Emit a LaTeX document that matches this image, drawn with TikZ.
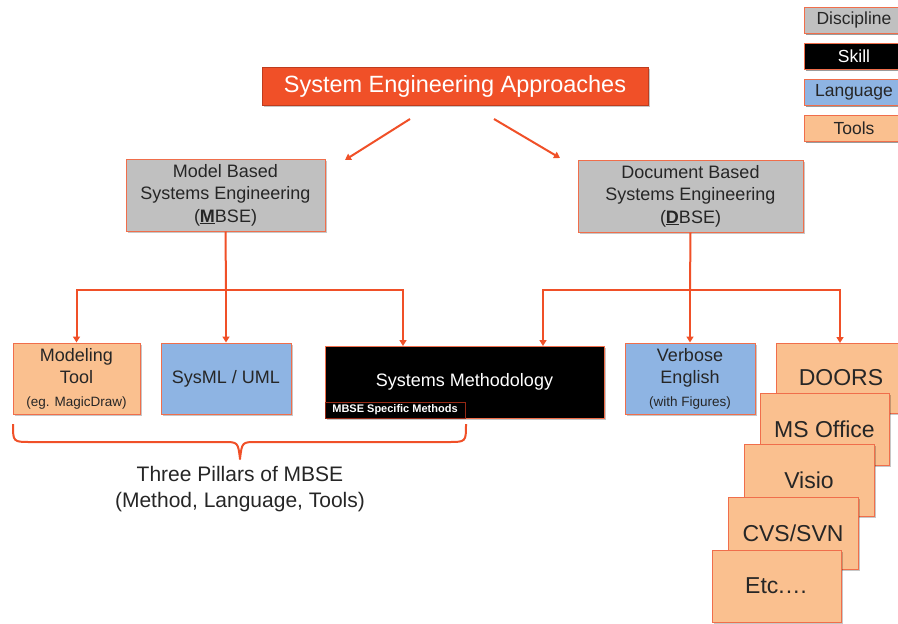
\documentclass[tikz,border=0pt]{standalone}
\usepackage{fontspec}
\setmainfont{Liberation Sans}
\usetikzlibrary{arrows.meta,shadows}

\definecolor{seorange}{RGB}{240,80,40}
\definecolor{seborder}{RGB}{240,110,75}
\definecolor{titleedge}{RGB}{190,60,30}
\definecolor{discgray}{RGB}{192,192,192}
\definecolor{toolpeach}{RGB}{250,192,143}
\definecolor{langblue}{RGB}{142,180,227}
\definecolor{methedge}{RGB}{150,40,20}

\tikzset{
  box/.style={draw=seborder, line width=1pt, inner sep=0pt, align=center,
    text=black!85, drop shadow={shadow xshift=1.5pt, shadow yshift=-1.5pt,
    opacity=0.22, fill=black}},
  discbox/.style={box, fill=discgray},
  toolbox/.style={box, fill=toolpeach},
  langbox/.style={box, fill=langblue},
  skillbox/.style={box, fill=black, text=white},
  legend/.style={box, minimum width=100pt, minimum height=26pt,
    font=\fontsize{17.5}{20}\selectfont},
  body/.style={font=\fontsize{18}{22.5}\selectfont},
  stackbox/.style={toolbox, minimum height=72pt, font=\fontsize{23}{26}\selectfont},
  link/.style={draw=seorange, line width=2pt},
  tip/.style={link, -{Triangle[width=7pt,length=6pt]}},
}
\newcommand{\smalltext}[1]{{\fontsize{13.5}{16}\selectfont #1}}

\begin{document}
\begin{tikzpicture}[x=1pt, y=-1pt]
\useasboundingbox (0,0) rectangle (898,624);

% legend
\node[legend, discbox] (lgdisc) at (854,20) {Discipline};
\node[legend, skillbox] (lgskill) at (854,56) {Skill};
\node[legend, langbox] (lglang) at (854,92) {Language};
\node[legend, toolbox] (lgtool) at (854,128) {Tools};

% title
\node[box, fill=seorange, draw=titleedge, text=white, minimum width=386pt,
  minimum height=38pt, font=\fontsize{23.5}{26}\selectfont] (title) at (455,86)
  {System Engineering Approaches};

% the two approaches
\node[discbox, body, minimum width=199pt, minimum height=72pt] (mbse) at (225.5,195)
  {Model Based\\Systems Engineering\\(\underline{\textbf{M}}BSE)};
\node[discbox, body, minimum width=225pt, minimum height=72pt] (dbse) at (690.5,196)
  {Document Based\\Systems Engineering\\(\underline{\textbf{D}}BSE)};

\coordinate (tl) at (410,119);
\coordinate (tlend) at (345,160);
\coordinate (tr) at (494,119);
\coordinate (trend) at (560,158);
\draw[tip] (tl) -- (tlend);
\draw[tip] (tr) -- (trend);

% MBSE pillars
\node[toolbox, body, minimum width=127pt, minimum height=71pt] (mtool) at (76.5,378.5)
  {Modeling\\Tool\\\smalltext{(eg. MagicDraw)}};
\node[langbox, body, minimum width=130pt, minimum height=71pt] (sysml) at (226,378.5)
  {SysML / UML};
\node[skillbox, body, minimum width=279pt, minimum height=72pt] (smeth) at (464.5,382)
  {Systems Methodology};
\node[anchor=south west, draw=methedge, line width=1pt, fill=black, text=white,
  inner sep=0pt, minimum width=140pt, minimum height=16pt,
  font=\fontsize{11}{13}\selectfont\bfseries] (mspec) at (smeth.south west)
  {MBSE Specific Methods};

% DBSE items
\node[langbox, body, minimum width=130pt, minimum height=71pt] (verb) at (690,378.5)
  {Verbose\\English\\\smalltext{(with Figures)}};
\node[stackbox, minimum width=130pt, minimum height=70pt] (doors) at (841,378) {DOORS};
\node[stackbox, minimum width=129pt] (msoff) at (824.5,429) {MS Office};
\node[stackbox, minimum width=130pt] (visio) at (809,480) {Visio};
\node[stackbox, minimum width=130pt] (cvs) at (793,533) {CVS/SVN};
\node[stackbox, minimum width=129pt] (etc) at (776.5,586) {Etc.\ldots};

% MBSE tree
\coordinate (mj) at (226,290);
\draw[link] (mbse.south) -- (mj);
\draw[tip] (mj) -| (mtool.north);
\draw[tip] (mj) -- (sysml.north);
\draw[tip] (mj) -| (403,346);

% DBSE tree
\coordinate (dj) at (690,290);
\coordinate (smin) at (543,346);
\coordinate (drin) at (840,343);
\draw[link] (dbse.south) -- (dj);
\draw[tip] (dj) -| (smin);
\draw[tip] (dj) -- (verb.north);
\draw[tip] (dj) -| (drin);

% brace under the three pillars
\coordinate (bl) at (13,424);
\coordinate (br) at (466,424);
\coordinate (btip) at (240,459);
\draw[link, line join=round] (bl) .. controls (13,442) .. (31,442) -- (223,442)
  .. controls (238,442) .. (btip) .. controls (242,442) .. (257,442) -- (448,442)
  .. controls (466,442) .. (br);
\node[font=\fontsize{21}{26}\selectfont, align=center, text=black!85] (pillars) at (240,489)
  {Three Pillars of MBSE\\(Method, Language, Tools)};
\end{tikzpicture}
\end{document}
